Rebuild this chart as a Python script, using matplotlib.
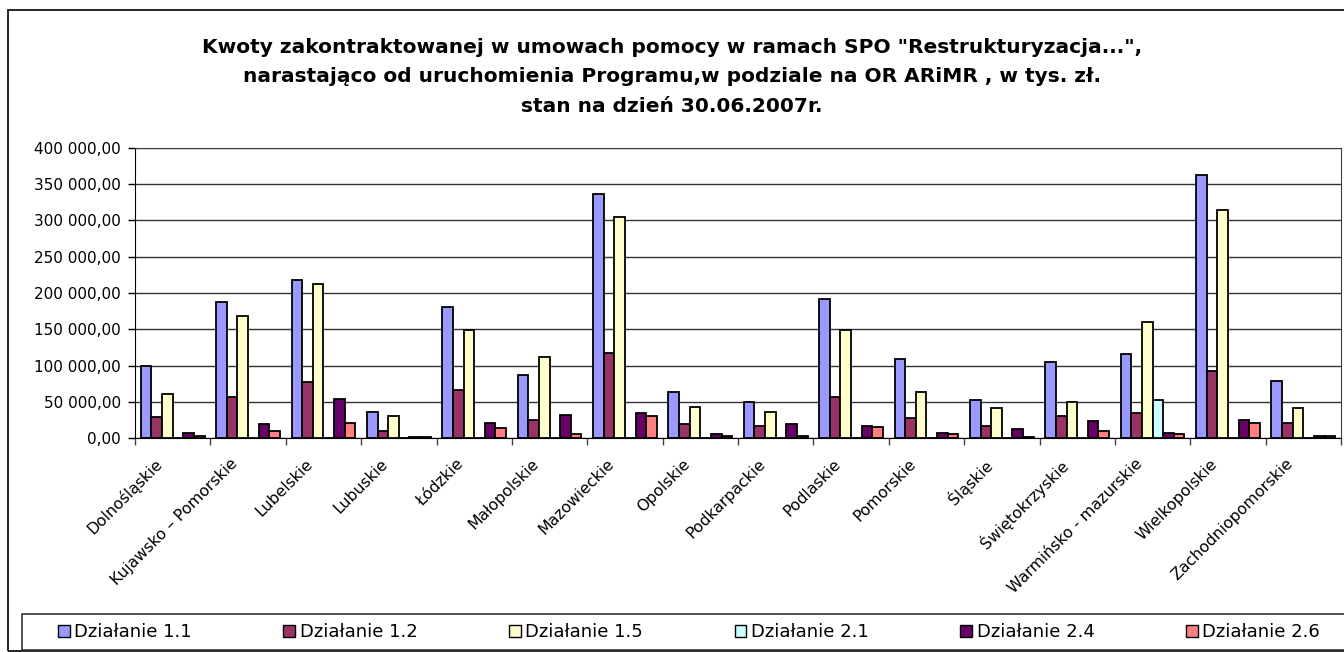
import numpy as np
import matplotlib
matplotlib.use("Agg")
import matplotlib.pyplot as plt
from matplotlib.patches import Rectangle
from matplotlib.ticker import FuncFormatter, MultipleLocator
from matplotlib.transforms import ScaledTranslation

plt.rcParams['font.family'] = ['DejaVu Sans']

# ================= DANE =================

regiony = ['Dolnośląskie', 'Kujawsko – Pomorskie', 'Lubelskie', 'Lubuskie', 'Łódzkie',
           'Małopolskie', 'Mazowieckie', 'Opolskie', 'Podkarpackie', 'Podlaskie',
           'Pomorskie', 'Śląskie', 'Świętokrzyskie', 'Warmińsko - mazurskie',
           'Wielkopolskie', 'Zachodniopomorskie']

dzialanie_1_1 = [99000, 187200, 218400, 36300, 181000, 87300, 336700, 63000,
                 50100, 191800, 109200, 52400, 105300, 116300, 362900, 78600]
dzialanie_1_2 = [29400, 56100, 76800, 9700, 65700, 25300, 116900, 18900,
                 16600, 56600, 28000, 16600, 29900, 34100, 92000, 20700]
dzialanie_1_5 = [60700, 167900, 212000, 29900, 149400, 111800, 304900, 43200,
                 36300, 149400, 63000, 41000, 50100, 160500, 314100, 41000]
dzialanie_2_1 = [0, 0, 0, 0, 0, 0, 0, 0,
                 0, 0, 0, 0, 0, 52400, 0, 0]
dzialanie_2_4 = [7300, 18900, 54200, 1500, 20700, 31700, 34100, 5100,
                 18900, 16600, 7300, 12000, 23000, 7300, 25300, 3200]
dzialanie_2_6 = [3200, 10100, 20700, 1300, 14200, 5100, 29900, 3200,
                 3200, 14700, 5500, 1000, 10100, 5500, 20700, 3200]

serie = ['Działanie 1.1', 'Działanie 1.2', 'Działanie 1.5',
         'Działanie 2.1', 'Działanie 2.4', 'Działanie 2.6']
wartosci = [dzialanie_1_1, dzialanie_1_2, dzialanie_1_5,
            dzialanie_2_1, dzialanie_2_4, dzialanie_2_6]
kolory = ['#9999FF', '#993366', '#FFFFCC', '#CCFFFF', '#660066', '#FF8080']

tytul = ('Kwoty zakontraktowanej w umowach pomocy w ramach SPO "Restrukturyzacja...",\n'
         'narastająco od uruchomienia Programu,w podziale na OR ARiMR , w tys. zł.\n'
         'stan na dzień 30.06.2007r.')

# ================= WYKRES =================

W, H = 1344, 652
fig = plt.figure(figsize=(W / 100, H / 100), dpi=100)
ax = fig.add_axes([135 / W, 1 - 438 / H, (1341 - 135) / W, (438 - 148) / H])

x = np.arange(len(regiony))
szer = 1 / 7.1
for i, (nazwa, val, kol) in enumerate(zip(serie, wartosci, kolory)):
    ax.bar(x + (i - 2.5) * szer, val, width=szer, color=kol, edgecolor='black',
           linewidth=1.3, label=nazwa, zorder=3)

ax.set_xlim(-0.5, len(regiony) - 0.5)
ax.set_ylim(0, 400000)
ax.yaxis.set_major_locator(MultipleLocator(50000))
ax.yaxis.set_major_formatter(FuncFormatter(
    lambda v, p: f"{v:,.2f}".replace(',', ' ').replace('.', ',')))
ax.grid(axis='y', color='#333333', linewidth=1.0, zorder=0)

ax.set_xticks(x)
ax.set_xticklabels(regiony, rotation=45, ha='right', va='top', rotation_mode='anchor',
                   fontsize=11.3)
ax.tick_params(axis='x', which='major', length=0, pad=13)
przesun = ScaledTranslation(-18 / 100, 0, fig.dpi_scale_trans)
for lab in ax.get_xticklabels():
    lab.set_transform(lab.get_transform() + przesun)
ax.set_xticks(np.arange(len(regiony) + 1) - 0.5, minor=True)
ax.tick_params(axis='x', which='minor', length=5, width=1, color='#404040')
ax.tick_params(axis='y', length=5, width=1, labelsize=11, pad=5)

for s in ['left', 'bottom']:
    ax.spines[s].set_color('black')
for s in ['top', 'right']:
    ax.spines[s].set_color('#404040')

fig.text(0.5, 1 - 77 / H, tytul, ha='center', va='center', fontsize=14.5,
         fontweight='bold', linespacing=1.7)

# ramka wykresu i ramka legendy
fig.patches.append(Rectangle((8 / W, 1 / H), (W + 10) / W, (H - 11) / H,
                             transform=fig.transFigure, fill=False,
                             edgecolor='black', linewidth=1.2))
fig.patches.append(Rectangle((22 / W, 1 - 650 / H), (W + 10) / W, 36 / H,
                             transform=fig.transFigure, fill=False,
                             edgecolor='#333333', linewidth=1.2))

leg = fig.legend(loc='center left', bbox_to_anchor=(58 / W, 1 - 650 / H, (1320 - 58) / W, 36 / H),
                 mode='expand', ncol=6, fontsize=13, frameon=False,
                 borderaxespad=0, borderpad=0, handlelength=0.65, handleheight=0.65,
                 handletextpad=0.25)
for h in leg.legend_handles:
    h.set_linewidth(1.0)

fig.savefig('out.png', dpi=100)
